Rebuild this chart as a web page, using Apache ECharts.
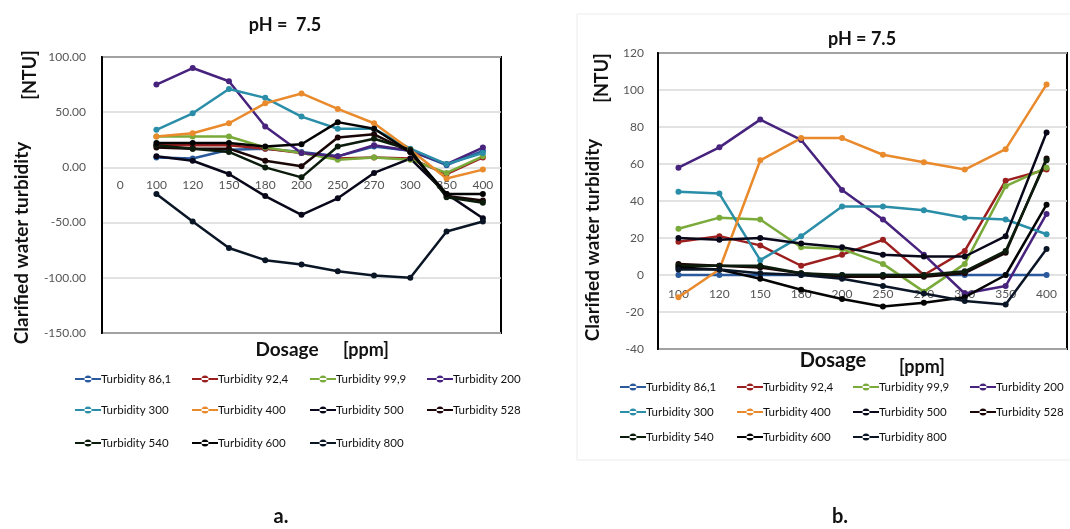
<!DOCTYPE html>
<html><head><meta charset="utf-8">
<script src="https://cdn.jsdelivr.net/npm/echarts@6/dist/echarts.min.js"></script>
<style>html,body{margin:0;padding:0;background:#fff}#c{width:1070px;height:529px}</style>
</head><body><div id="c"></div>
<script>
// ---------- Data ----------
const seriesNames = ['Turbidity 86,1','Turbidity 92,4','Turbidity 99,9','Turbidity 200','Turbidity 300','Turbidity 400','Turbidity 500','Turbidity 528','Turbidity 540','Turbidity 600','Turbidity 800'];
const seriesColors = ['#2a5a9c','#9c1f1f','#7aaa3a','#47237e','#2a8ea8','#e98a2c','#08081a','#1a0606','#0c1c0c','#030303','#0a1626'];

const catsA = ['0','100','120','150','180','200','250','270','300','350','400'];
const a861 = [null, 9, 8, 16, 17, 14, 10, 19, 15, 2, 15];
const a924 = [null, 20, 20, 20, 17, 13, 8, 9, 8, -6, 9];
const a999 = [null, 28, 28, 28, 18, 13, 7, 9, 7, -5, 10];
const a200 = [null, 75, 90, 78, 37, 13, 10, 20, 15, 3, 18];
const a300 = [null, 34, 49, 71, 63, 46, 35, 35, 17, 3, 13];
const a400 = [null, 28, 31, 40, 58, 67, 53, 40, 16, -10, -2];
const a500 = [null, 10, 6, -6, -26, -43, -28, -5, 8, -24, -46];
const a528 = [null, 18, 17, 17, 6, 1, 27, 30, 14, -26, -30];
const a540 = [null, 20, 17, 14, 0, -9, 19, 26, 16, -27, -32];
const a600 = [null, 22, 22, 22, 19, 21, 41, 35, 14, -24, -24];
const a800 = [null, -24, -49, -73, -84, -88, -94, -98, -100, -58, -49];
const seriesA = [a861, a924, a999, a200, a300, a400, a500, a528, a540, a600, a800];

const catsB = ['100','120','150','180','200','250','270','300','350','400'];
const b861 = [0, 0, 0, 0, 0, 0, 0, 0, 0, 0];
const b924 = [18, 21, 16, 5, 11, 19, 0, 13, 51, 57];
const b999 = [25, 31, 30, 15, 14, 6, -9, 6, 48, 58];
const b200 = [58, 69, 84, 73, 46, 30, 11, -10, -6, 33];
const b300 = [45, 44, 8, 21, 37, 37, 35, 31, 30, 22];
const b400 = [-12, 3, 62, 74, 74, 65, 61, 57, 68, 103];
const b500 = [20, 19, 20, 17, 15, 11, 10, 10, 21, 77];
const b528 = [6, 5, 4, 1, -1, -1, -1, 1, 12, 63];
const b540 = [5, 5, 5, 1, 0, 0, 0, 2, 13, 62];
const b600 = [4, 3, -2, -8, -13, -17, -15, -12, 0, 38];
const b800 = [3, 3, 1, 0, -2, -6, -10, -14, -16, 14];
const seriesB = [b861, b924, b999, b200, b300, b400, b500, b528, b540, b600, b800];

const rangeA = {min: -150, max: 100, interval: 50};
const rangeB = {min: -40, max: 120, interval: 20};

const FONT = 'Lato, "Open Sans", sans-serif';
const chart = echarts.init(document.getElementById('c'), null, {renderer: 'canvas'});

function mkSeries(arrs, idx) {
  return arrs.map((d, i) => ({
    name: seriesNames[i], type: 'line', xAxisIndex: idx, yAxisIndex: idx,
    data: d, symbol: 'circle', symbolSize: 6, connectNulls: false,
    lineStyle: {width: 2.5, color: seriesColors[i]},
    itemStyle: {color: seriesColors[i]}, emphasis: {disabled: true}, z: 3
  }));
}

const gridA = {left: 102, top: 57, width: 399, height: 276};
const gridB = {left: 658, top: 53, width: 409, height: 296};
const zeroOffset = (g, r) => -(g.height * (0 - r.min) / (r.max - r.min));

const legA = {cols: [75, 192, 310, 427], rows: [373, 404, 437]};
const legB = {cols: [620, 737, 853, 970], rows: [381, 406, 431]};
const legends = [];
const ICON = 'path://M0,4 H26 V6 H0 Z M9.5,5 A3.5,3.5 0 1 0 16.5,5 A3.5,3.5 0 1 0 9.5,5 Z';
[legA, legB].forEach(L => {
  seriesNames.forEach((n, i) => {
    legends.push({
      data: [n], left: L.cols[i % 4], top: L.rows[Math.floor(i / 4)],
      itemWidth: 26, itemHeight: 10, itemGap: 0, padding: 0,
      icon: ICON, selectedMode: false,
      textStyle: {fontFamily: FONT, fontSize: 11.5, color: '#111', padding: [0, 0, 0, -5]},
      itemStyle: {color: seriesColors[i]}
    });
  });
});

const axisLabelStyle = {fontFamily: FONT, fontSize: 12, color: '#555'};
const boldText = (x, y, text, size, rot) => ({
  type: 'text', x: x, y: y, rotation: rot || 0,
  style: {text: text, fontFamily: FONT, fontSize: size, fontWeight: 'bold', fill: '#111', align: 'center', verticalAlign: 'middle'}
});
const frame = (g) => ({type: 'rect', z: -9, shape: {x: g.left, y: g.top, width: g.width, height: g.height},
  style: {fill: 'none', stroke: '#000', lineWidth: 1}});
const edge = {show: true, lineStyle: {color: '#000', width: 2}};

const option = {
  animation: false,
  backgroundColor: '#fff',
  grid: [
    Object.assign({show: true, borderColor: '#000', borderWidth: 2, backgroundColor: 'transparent'}, gridA),
    Object.assign({show: true, borderColor: '#000', borderWidth: 2, backgroundColor: 'transparent'}, gridB)
  ],
  xAxis: [
    {type: 'category', gridIndex: 0, data: catsA, boundaryGap: true, position: 'bottom',
     offset: zeroOffset(gridA, rangeA),
     axisLine: {show: false, onZero: false}, axisTick: {show: false},
     axisLabel: Object.assign({margin: 12, interval: 0}, axisLabelStyle)},
    {type: 'category', gridIndex: 1, data: catsB, boundaryGap: true, position: 'bottom',
     offset: zeroOffset(gridB, rangeB),
     axisLine: {show: false, onZero: false}, axisTick: {show: false},
     axisLabel: Object.assign({margin: 13, interval: 0}, axisLabelStyle)}
  ],
  yAxis: [
    Object.assign({type: 'value', gridIndex: 0, position: 'left',
     axisLine: edge, axisTick: {show: false},
     splitLine: {lineStyle: {color: '#d9d9d9', width: 1.5}},
     axisLabel: Object.assign({margin: 16, formatter: v => v.toFixed(2)}, axisLabelStyle)}, rangeA),
    Object.assign({type: 'value', gridIndex: 1, position: 'left',
     axisLine: edge, axisTick: {show: false},
     splitLine: {lineStyle: {color: '#d9d9d9', width: 1.5}},
     axisLabel: Object.assign({margin: 14}, axisLabelStyle)}, rangeB)
  ],
  legend: legends,
  title: [
    {text: 'pH =  7.5', left: 280, top: 11, textAlign: 'center', textStyle: {fontFamily: FONT, fontSize: 18, fontWeight: 'bold', color: '#111'}},
    {text: 'pH = 7.5', left: 857, top: 25, textAlign: 'center', textStyle: {fontFamily: FONT, fontSize: 18, fontWeight: 'bold', color: '#111'}}
  ],
  graphic: [
    {type: 'rect', shape: {x: 577, y: 14, width: 500, height: 446}, style: {fill: 'none', stroke: '#ececec', lineWidth: 1}, z: -10},
    frame(gridA), frame(gridB),
    boldText(22, 243, 'Clarified water turbidity', 19, Math.PI / 2),
    boldText(30, 75, '[NTU]', 18, Math.PI / 2),
    boldText(593, 240, 'Clarified water turbidity', 19, Math.PI / 2),
    boldText(602, 78, '[NTU]', 18, Math.PI / 2),
    boldText(287, 350, 'Dosage', 19, 0),
    boldText(366, 350, '[ppm]', 18, 0),
    boldText(833, 361, 'Dosage', 20, 0),
    boldText(922, 367, '[ppm]', 18, 0),
    boldText(281, 517, 'a.', 20, 0),
    boldText(840, 517, 'b.', 20, 0)
  ],
  series: mkSeries(seriesA, 0).concat(mkSeries(seriesB, 1))
};
chart.setOption(option);
</script></body></html>
